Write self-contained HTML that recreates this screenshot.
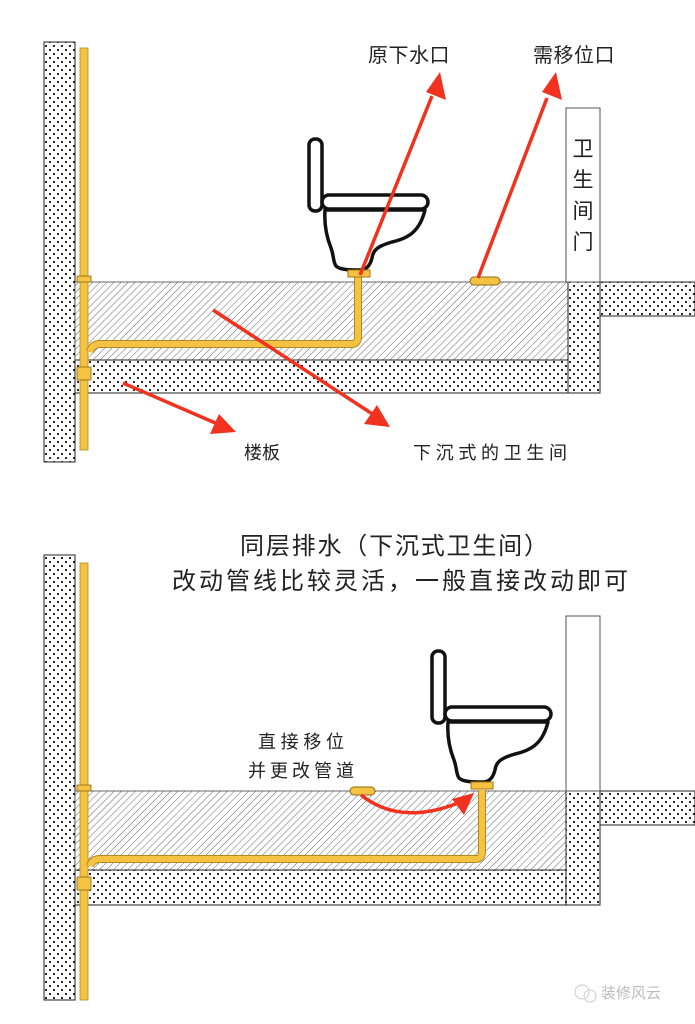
<!DOCTYPE html>
<html><head><meta charset="utf-8"><style>
html,body{margin:0;padding:0;background:#fff;}
svg{display:block;}
text{font-family:"Liberation Sans","Noto Sans CJK SC",sans-serif;fill:#222;}
</style></head><body>
<svg width="695" height="1024" viewBox="0 0 695 1024" xmlns="http://www.w3.org/2000/svg">
<defs>
<pattern id="dots" width="8" height="8" patternUnits="userSpaceOnUse">
<rect width="8" height="8" fill="#fff"/><circle cx="2" cy="2" r="1.1" fill="#111"/><circle cx="6" cy="6" r="1.1" fill="#111"/>
</pattern>
<pattern id="hatch" width="5" height="5" patternUnits="userSpaceOnUse" patternTransform="rotate(45)">
<rect width="5" height="5" fill="#fff"/><line x1="0" y1="0" x2="0" y2="5" stroke="#666" stroke-width="1"/>
</pattern>
<g id="toilet" fill="#fff" stroke="#111" stroke-width="3.5" stroke-linejoin="round">
<path d="M325 210 C324 225 327 238 331 248 C334 256 333 262 336 266 C340 270 350 270 360 270 C366 270 370 266 372 258 C373 250 378 246 392 242 C410 238 420 230 425 210 Z"/>
<rect x="309" y="139" width="13" height="72" rx="6"/>
<rect x="322" y="195" width="106" height="14" rx="7"/>
<rect x="348" y="270" width="22" height="7" fill="#f5c242" stroke="#a07a10" stroke-width="1"/>
</g>
</defs>

<!-- TOP PANEL -->
<rect x="44" y="42" width="31" height="420" fill="url(#dots)" stroke="#222"/>
<rect x="75" y="282" width="493" height="78" fill="url(#hatch)" stroke="#444" stroke-width="0.8"/>
<rect x="75" y="360" width="493" height="33" fill="url(#dots)" stroke="#222"/>
<rect x="568" y="282" width="32" height="111" fill="url(#dots)" stroke="#222"/>
<rect x="600" y="282" width="95" height="34" fill="url(#dots)" stroke="#222"/>
<rect x="566" y="108" width="34" height="174" fill="#fff" stroke="#555"/>
<text x="583" y="156" font-size="21" text-anchor="middle">卫</text>
<text x="583" y="187" font-size="21" text-anchor="middle">生</text>
<text x="583" y="218" font-size="21" text-anchor="middle">间</text>
<text x="583" y="249" font-size="21" text-anchor="middle">门</text>
<rect x="80" y="48" width="8" height="402" fill="#f5c242" stroke="#b08a20" stroke-width="0.8"/>
<rect x="77" y="276" width="14" height="6" fill="#f5c242" stroke="#8a6a10" stroke-width="0.8"/>
<rect x="77" y="367" width="14" height="13" fill="#f5c242" stroke="#8a6a10" stroke-width="0.8"/>
<path d="M90 352 Q92 344 100 344 L352 344 Q358 344 358 336 L358 277" fill="none" stroke="#b08a20" stroke-width="8"/>
<path d="M90 352 Q92 344 100 344 L352 344 Q358 344 358 336 L358 277" fill="none" stroke="#f5c242" stroke-width="6"/>
<use href="#toilet"/>
<rect x="470" y="277" width="30" height="8" rx="4" fill="#f5c242" stroke="#8a6a10"/>
<g stroke="#f0321e" stroke-width="3.5" fill="none">
<line x1="360" y1="275" x2="432" y2="96"/>
<line x1="478" y1="278" x2="547" y2="98"/>
<line x1="213" y1="310" x2="374" y2="415"/>
<line x1="123" y1="383" x2="220" y2="425"/>
</g>
<g fill="#f0321e">
<polygon points="440,72 446,100 426,92"/>
<polygon points="556,72 562,100 542,92"/>
<polygon points="390,427 364,424 377,405"/>
<polygon points="236,432 210,434 219,414"/>
</g>
<text x="368" y="62" font-size="20" letter-spacing="0.5">原下水口</text>
<text x="533" y="62" font-size="20" letter-spacing="0.5">需移位口</text>
<text x="244" y="459" font-size="18">楼板</text>
<text x="413" y="459" font-size="18" textLength="154">下沉式的卫生间</text>

<!-- BOTTOM PANEL -->
<text x="240" y="554" font-size="24" textLength="308">同层排水（下沉式卫生间）</text>
<text x="172" y="589" font-size="24" textLength="456">改动管线比较灵活，一般直接改动即可</text>
<rect x="44" y="555" width="31" height="445" fill="url(#dots)" stroke="#222"/>
<rect x="75" y="791" width="491" height="79" fill="url(#hatch)" stroke="#444" stroke-width="0.8"/>
<rect x="75" y="870" width="491" height="35" fill="url(#dots)" stroke="#222"/>
<rect x="566" y="791" width="34" height="114" fill="url(#dots)" stroke="#222"/>
<rect x="600" y="791" width="95" height="34" fill="url(#dots)" stroke="#222"/>
<rect x="566" y="616" width="34" height="175" fill="#fff" stroke="#555"/>
<rect x="80" y="563" width="8" height="437" fill="#f5c242" stroke="#b08a20" stroke-width="0.8"/>
<rect x="77" y="785" width="14" height="6" fill="#f5c242" stroke="#8a6a10" stroke-width="0.8"/>
<rect x="77" y="877" width="14" height="13" fill="#f5c242" stroke="#8a6a10" stroke-width="0.8"/>
<path d="M90 866 Q92 859 100 859 L476 859 Q482 859 482 851 L482 790" fill="none" stroke="#b08a20" stroke-width="8"/>
<path d="M90 866 Q92 859 100 859 L476 859 Q482 859 482 851 L482 790" fill="none" stroke="#f5c242" stroke-width="6"/>
<use href="#toilet" transform="translate(123,512)"/>
<rect x="350" y="787" width="25" height="8" rx="4" fill="#f5c242" stroke="#8a6a10"/>
<path d="M361 795 Q400 826 458 803" fill="none" stroke="#f0321e" stroke-width="3.5"/>
<polygon points="474,793 464,815 452,799" fill="#f0321e"/>
<text x="258" y="748" font-size="18" textLength="86">直接移位</text>
<text x="248" y="777" font-size="18" textLength="106">并更改管道</text>
<text x="601" y="998" font-size="15" style="fill:#bbb">装修风云</text>
<circle cx="582" cy="992" r="7" fill="none" stroke="#ccc"/>
<circle cx="590" cy="996" r="6" fill="none" stroke="#ccc"/>
</svg>
</body></html>
